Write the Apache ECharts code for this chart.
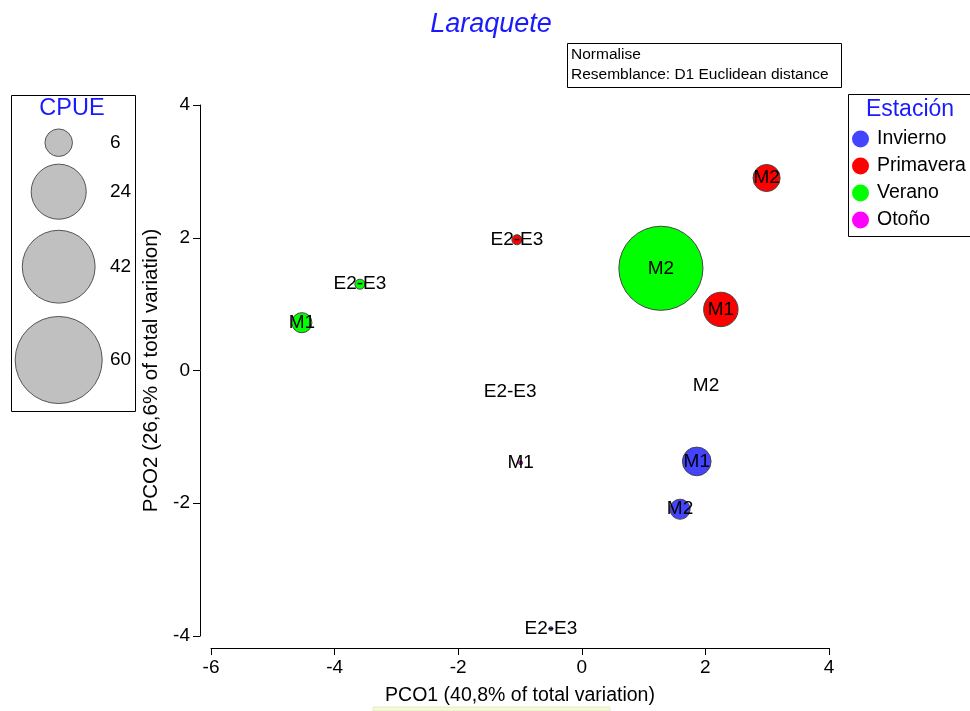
<!DOCTYPE html>
<html><head><meta charset="utf-8">
<script src="https://cdn.jsdelivr.net/npm/echarts@6/dist/echarts.min.js"></script>
<style>html,body{margin:0;padding:0;background:#fff}#c{width:970px;height:711px}</style>
</head><body><div id="c"></div>
<script>
// ---- data ----
const seasons = ['Invierno', 'Primavera', 'Verano', 'Otoño'];
const seasonColors = ['#4444ff', '#ff0000', '#00ff00', '#ff00ff'];
const sites = ['M1', 'M2', 'E2-E3'];
// PCO1 / PCO2 coordinates and CPUE per season, in the order of `sites`
const inviernoPCO1 = [1.86, 1.59, -0.50];
const inviernoPCO2 = [-1.37, -2.09, -3.89];
const inviernoCPUE = [6.5, 3.2, 0.13];
const primaveraPCO1 = [2.25, 2.99, -1.05];
const primaveraPCO2 = [0.92, 2.90, 1.97];
const primaveraCPUE = [9.4, 5.8, 0.8];
const veranoPCO1 = [-4.53, 1.28, -3.59];
const veranoPCO2 = [0.72, 1.54, 1.30];
const veranoCPUE = [3.2, 56, 0.8];
const otonoPCO1 = [-0.99, 2.01, -1.16];
const otonoPCO2 = [-1.39, -0.23, -0.32];
const otonoCPUE = [0.13, 0, 0];
const cpueLegendValues = [6, 24, 42, 60];
const xTicks = [-6, 4, 2];   // min, max, interval
const yTicks = [-4, 4, 2];

const FONT = '"Liberation Sans", Arial, sans-serif';
const K = 5.62; // radius per sqrt(CPUE)
const diam = v => Math.max(2 * K * Math.sqrt(v), 0.01);

const pco1 = [inviernoPCO1, primaveraPCO1, veranoPCO1, otonoPCO1];
const pco2 = [inviernoPCO2, primaveraPCO2, veranoPCO2, otonoPCO2];
const cpue = [inviernoCPUE, primaveraCPUE, veranoCPUE, otonoCPUE];

const series = seasons.map((s, i) => ({
  name: s,
  type: 'scatter',
  data: sites.map((site, j) => [pco1[i][j], pco2[i][j], cpue[i][j], site]),
  symbolSize: d => diam(d[2]),
  itemStyle: { color: seasonColors[i], borderColor: '#444', borderWidth: 1, opacity: 1 },
  label: { show: true, position: 'inside', formatter: p => p.data[3], color: '#000', fontSize: 19, fontFamily: FONT },
  emphasis: { disabled: true },
  z: 2
}));

// legend graphics
const g = [];
g.push({ type: 'text', x: 491, y: 24, style: { text: 'Laraquete', font: 'italic 27px ' + FONT, fill: '#1a1aff', textAlign: 'center', textVerticalAlign: 'middle' } });
g.push({ type: 'rect', shape: { x: 567.5, y: 43.5, width: 274, height: 44 }, style: { fill: '#fff', stroke: '#000', lineWidth: 1 } });
g.push({ type: 'text', x: 571, y: 55, style: { text: 'Normalise', font: '15.5px ' + FONT, fill: '#000', textVerticalAlign: 'middle' } });
g.push({ type: 'text', x: 571, y: 75, style: { text: 'Resemblance: D1 Euclidean distance', font: '15.5px ' + FONT, fill: '#000', textVerticalAlign: 'middle' } });

// CPUE legend
g.push({ type: 'rect', shape: { x: 11.5, y: 95.5, width: 124, height: 316 }, style: { fill: '#fff', stroke: '#000', lineWidth: 1 } });
g.push({ type: 'text', x: 72, y: 109, style: { text: 'CPUE', font: '23.5px ' + FONT, fill: '#1a1aff', textAlign: 'center', textVerticalAlign: 'middle' } });
const cpueY = [142.7, 191.7, 266.7, 360];
cpueLegendValues.forEach((v, i) => {
  g.push({ type: 'circle', shape: { cx: 58.7, cy: cpueY[i], r: diam(v) / 2 }, style: { fill: '#c0c0c0', stroke: '#555', lineWidth: 1 } });
  g.push({ type: 'text', x: 110, y: cpueY[i], style: { text: String(v), font: '19px ' + FONT, fill: '#000', textVerticalAlign: 'middle' } });
});

// Estación legend
g.push({ type: 'rect', shape: { x: 848.5, y: 94.5, width: 130, height: 142 }, style: { fill: '#fff', stroke: '#000', lineWidth: 1 } });
g.push({ type: 'text', x: 910, y: 110, style: { text: 'Estación', font: '23px ' + FONT, fill: '#1a1aff', textAlign: 'center', textVerticalAlign: 'middle' } });
seasons.forEach((s, i) => {
  const y = 139 + i * 27;
  g.push({ type: 'circle', shape: { cx: 860.5, cy: y, r: 8.5 }, style: { fill: seasonColors[i] } });
  g.push({ type: 'text', x: 877, y: y, style: { text: s, font: '19.5px ' + FONT, fill: '#000', textVerticalAlign: 'middle' } });
});
g.push({ type: 'rect', shape: { x: 373, y: 707, width: 237, height: 4 }, style: { fill: '#f7f9d2', stroke: '#e4ecd0', lineWidth: 1 } });

const axisCommon = {
  axisLine: { show: true, onZero: false, lineStyle: { color: '#000', width: 1 } },
  axisTick: { show: true, length: 7, lineStyle: { color: '#000' } },
  splitLine: { show: false },
  axisLabel: { color: '#000', fontSize: 19, fontFamily: FONT },
  nameLocation: 'middle',
  nameTextStyle: { color: '#000', fontSize: 19.5, fontFamily: FONT }
};

const chart = echarts.init(document.getElementById('c'), null, { renderer: 'canvas' });
chart.setOption({
  animation: false,
  grid: { left: 211, right: 141, top: 105, bottom: 75 },
  xAxis: Object.assign({}, axisCommon, {
    type: 'value', min: xTicks[0], max: xTicks[1], interval: xTicks[2],
    offset: 12, name: 'PCO1 (40,8% of total variation)', nameGap: 38,
    axisLabel: Object.assign({}, axisCommon.axisLabel, { margin: 10 })
  }),
  yAxis: Object.assign({}, axisCommon, {
    type: 'value', min: yTicks[0], max: yTicks[1], interval: yTicks[2],
    offset: 11, name: 'PCO2 (26,6% of total variation)', nameGap: 30,
    nameTextStyle: Object.assign({}, axisCommon.nameTextStyle, { fontSize: 20.5 }),
    axisLabel: Object.assign({}, axisCommon.axisLabel, { margin: 10 })
  }),
  series: series,
  graphic: g
});
</script></body></html>
